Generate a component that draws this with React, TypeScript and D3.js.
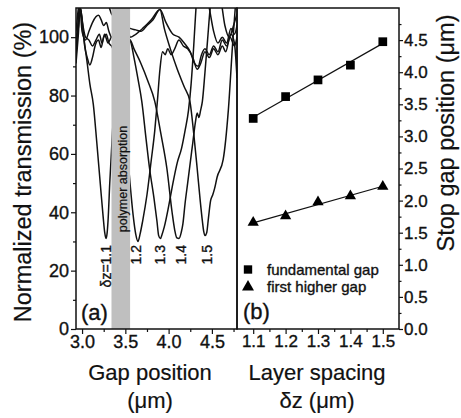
import { useEffect, useRef } from "react";
import * as d3 from "d3";

// panel (a): transmission spectra, [gap position in µm, transmission %]
const spectrum11 = [
  [2.93, 93], [2.95, 103], [2.97, 111], [2.99, 108], [3.02, 100], [3.06, 91], [3.09, 84],
  [3.13, 77], [3.17, 64], [3.21, 50], [3.245, 38], [3.262, 33], [3.277, 31], [3.29, 33],
  [3.3, 37], [3.32, 50], [3.36, 72], [3.4, 95], [3.46, 101], [3.52, 102], [3.56, 100],
  [3.62, 101], [3.7, 103], [3.8, 106], [3.9, 109.5], [3.97, 105], [4.05, 101], [4.12, 100],
  [4.18, 98], [4.25, 95], [4.3, 91], [4.34, 90], [4.38, 94], [4.42, 96], [4.47, 94],
  [4.52, 97], [4.57, 95], [4.62, 99], [4.67, 97], [4.72, 101], [4.76, 98], [4.79, 86],
];
const spectrum12 = [
  [2.93, 91], [2.955, 100], [2.98, 110], [3.0, 106], [3.03, 97], [3.06, 93], [3.09, 90.5],
  [3.12, 93], [3.15, 97], [3.19, 99], [3.22, 96.5], [3.25, 100], [3.28, 101], [3.31, 98],
  [3.34, 97], [3.4, 92], [3.47, 78], [3.52, 62], [3.554, 50], [3.59, 39], [3.62, 32.5],
  [3.646, 30], [3.67, 32.5], [3.7, 37], [3.75, 46], [3.8, 58], [3.84, 68], [3.87, 78],
  [3.9, 89], [3.93, 95], [3.96, 94], [3.99, 96], [4.03, 94], [4.07, 96], [4.12, 99],
  [4.17, 97], [4.22, 96], [4.28, 93], [4.33, 89], [4.37, 91], [4.42, 95], [4.47, 93],
  [4.52, 96], [4.57, 94], [4.62, 97], [4.66, 95], [4.71, 100], [4.76, 97], [4.79, 100],
];
const spectrum13 = [
  [2.93, 96], [2.96, 104], [2.98, 110], [3.01, 104], [3.04, 100], [3.08, 99], [3.12, 97],
  [3.16, 99], [3.2, 101], [3.23, 98], [3.26, 101], [3.3, 98], [3.34, 100], [3.45, 101],
  [3.554, 99], [3.6, 93], [3.65, 85], [3.69, 78], [3.74, 65], [3.78, 55], [3.83, 45],
  [3.865, 37], [3.885, 32], [3.905, 31], [3.925, 32.5], [3.95, 35], [4.0, 42], [4.05, 50],
  [4.1, 57], [4.15, 62], [4.19, 68], [4.23, 75], [4.26, 84], [4.29, 97], [4.31, 107],
  [4.33, 115], [4.4, 120], [4.47, 110], [4.52, 102], [4.57, 98], [4.62, 100], [4.67, 98],
  [4.72, 103], [4.76, 101], [4.79, 104],
];
const spectrum14 = [
  [2.93, 99], [2.96, 106], [2.975, 110], [3.0, 102], [3.04, 99], [3.08, 102], [3.12, 105],
  [3.16, 107], [3.19, 107.5], [3.22, 106], [3.25, 104], [3.28, 105], [3.31, 102], [3.34, 100],
  [3.45, 99], [3.554, 99], [3.6, 96], [3.68, 91], [3.76, 85], [3.84, 78], [3.91, 67],
  [3.98, 55], [4.04, 40], [4.07, 34], [4.095, 31.2], [4.12, 31], [4.145, 33], [4.165, 36],
  [4.19, 43], [4.22, 50], [4.25, 57], [4.28, 64], [4.31, 71], [4.33, 74], [4.35, 72.5],
  [4.37, 75], [4.39, 78], [4.42, 88], [4.45, 99], [4.48, 110], [4.51, 117], [4.6, 113],
  [4.65, 104], [4.7, 100], [4.75, 104], [4.79, 108],
];
const spectrum15 = [
  [2.93, 102], [2.95, 108], [2.97, 113], [3.02, 116], [3.1, 114], [3.2, 112], [3.3, 111],
  [3.34, 108], [3.45, 105], [3.554, 103], [3.62, 102.5], [3.68, 102], [3.75, 104], [3.82, 106],
  [3.9, 109.5], [3.95, 103], [4.02, 96], [4.1, 89], [4.18, 83], [4.246, 78], [4.29, 67],
  [4.33, 55], [4.365, 44], [4.39, 37], [4.405, 33.5], [4.42, 32], [4.44, 33], [4.46, 38],
  [4.485, 44], [4.51, 46], [4.53, 48], [4.56, 52], [4.63, 58], [4.69, 75], [4.74, 98],
  [4.77, 110], [4.79, 118],
];
const spectra = [spectrum11, spectrum12, spectrum13, spectrum14, spectrum15];
const dipLabels = ["δz=1.1", "1.2", "1.3", "1.4", "1.5"];
const absorptionBand = [3.34, 3.555];

// panel (b): stop gap position vs layer spacing
const spacings = [1.1, 1.2, 1.3, 1.4, 1.5];
const fundamentalGap = [3.28, 3.62, 3.88, 4.11, 4.475];
const higherGap = [1.66, 1.76, 1.98, 2.07, 2.22];

const leftXTicks = [3.0, 3.5, 4.0, 4.5];
const leftXMinor = [3.25, 3.75, 4.25, 4.75];
const leftYTicks = [0, 20, 40, 60, 80, 100];
const leftYMinor = [10, 30, 50, 70, 90];
const rightXTicks = [1.1, 1.2, 1.3, 1.4, 1.5];
const rightXMinor = [1.15, 1.25, 1.35, 1.45];
const rightYTicks = [0, 0.5, 1, 1.5, 2, 2.5, 3, 3.5, 4, 4.5];
const rightYMinor = [0.25, 0.75, 1.25, 1.75, 2.25, 2.75, 3.25, 3.75, 4.25, 4.75];

const FONT = "'Liberation Sans', Arial, Helvetica, sans-serif";
const INK = "#111";

const fit = (xs, ys) => {
  const mx = d3.mean(xs);
  const my = d3.mean(ys);
  const s =
    d3.sum(xs, (x, i) => (x - mx) * (ys[i] - my)) / d3.sum(xs, (x) => (x - mx) ** 2);
  return (x) => my + s * (x - mx);
};

// a scanned print: text a touch heavier than the regular face
const ink = (sel, size) =>
  sel
    .attr("font-family", FONT)
    .attr("font-size", size)
    .attr("fill", INK)
    .attr("stroke", INK)
    .attr("stroke-width", 0.35);

const App = () => {
  const svgRef = useRef(null);

  useEffect(() => {
    document.body.style.margin = "0";
    const svg = d3.select(svgRef.current);
    svg.selectAll("*").remove();

    const top = 8;
    const bottom = 329;
    const aLeft = 76;
    const aRight = 237;
    const bRight = 399;

    const xA = d3.scaleLinear().domain([2.93, 4.79]).range([aLeft, aRight]);
    const yA = d3.scaleLinear().domain([0, 110]).range([bottom, top]);
    const xB = d3.scaleLinear().domain([1.05, 1.55]).range([aRight, bRight]);
    const yB = d3.scaleLinear().domain([0, 5]).range([bottom, top]);

    svg.append("rect").attr("width", 461).attr("height", 418).attr("fill", "#fff");

    svg
      .append("defs")
      .append("clipPath")
      .attr("id", "clipA")
      .append("rect")
      .attr("x", aLeft)
      .attr("y", top)
      .attr("width", aRight - aLeft)
      .attr("height", bottom - top);

    // spectra
    const line = d3
      .line()
      .x((d) => xA(d[0]))
      .y((d) => yA(d[1]))
      .curve(d3.curveMonotoneX);

    const gA = svg.append("g").attr("clip-path", "url(#clipA)");
    gA.selectAll(".spectrum")
      .data(spectra)
      .enter()
      .append("path")
      .attr("class", "spectrum")
      .attr("d", line)
      .attr("fill", "none")
      .attr("stroke", INK)
      .attr("stroke-width", 1.5)
      .attr("stroke-linejoin", "round");

    // absorption band
    gA.append("rect")
      .attr("x", xA(absorptionBand[0]))
      .attr("y", top)
      .attr("width", xA(absorptionBand[1]) - xA(absorptionBand[0]))
      .attr("height", bottom - top)
      .attr("fill", "#bfbfbf");

    gA.append("text")
      .attr(
        "transform",
        `translate(${xA((absorptionBand[0] + absorptionBand[1]) / 2) + 6},179) rotate(-90)`
      )
      .attr("text-anchor", "middle")
      .call(ink, 12.5)
      .attr("stroke-width", 0.2)
      .text("polymer absorption");

    const labelX = [3.334, 3.681, 3.955, 4.201, 4.5];
    gA.selectAll(".dip-label")
      .data(dipLabels)
      .enter()
      .append("text")
      .attr("class", "dip-label")
      .attr("transform", (d, i) => `translate(${xA(labelX[i])},${yA(28.8)}) rotate(-90)`)
      .attr("text-anchor", "end")
      .call(ink, 14)
      .text((d) => d);

    // panel (b) fits and markers
    const gB = svg.append("g");
    [fundamentalGap, higherGap].forEach((ys) => {
      const f = fit(spacings, ys);
      gB.append("line")
        .attr("x1", xB(spacings[0]))
        .attr("x2", xB(spacings[spacings.length - 1]))
        .attr("y1", yB(f(spacings[0])))
        .attr("y2", yB(f(spacings[spacings.length - 1])))
        .attr("stroke", INK)
        .attr("stroke-width", 1.2);
    });

    const square = d3.symbol(d3.symbolSquare, 76);
    const triangle = d3.symbol(d3.symbolTriangle, 55);

    gB.selectAll(".sq")
      .data(spacings)
      .enter()
      .append("path")
      .attr("class", "sq")
      .attr("d", square)
      .attr("transform", (d, i) => `translate(${xB(d)},${yB(fundamentalGap[i])})`)
      .attr("fill", "#000");

    gB.selectAll(".tri")
      .data(spacings)
      .enter()
      .append("path")
      .attr("class", "tri")
      .attr("d", triangle)
      .attr("transform", (d, i) => `translate(${xB(d)},${yB(higherGap[i])})`)
      .attr("fill", "#000");

    // legend
    const legend = [
      { label: "fundamental gap", sym: d3.symbol(d3.symbolSquare, 70) },
      { label: "first higher gap", sym: d3.symbol(d3.symbolTriangle, 62) },
    ];
    const lg = gB
      .selectAll(".legend-item")
      .data(legend)
      .enter()
      .append("g")
      .attr("class", "legend-item")
      .attr("transform", (d, i) => `translate(248, ${269.5 + i * 17.5})`);
    lg.append("path").attr("d", (d) => d.sym()).attr("fill", "#000");
    lg.append("text")
      .attr("x", 19)
      .attr("y", 5)
      .call(ink, 15)
      .text((d) => d.label);

    // panel letters
    svg.append("text").attr("x", 81).attr("y", 320).text("(a)").call(ink, 22);
    svg.append("text").attr("x", 243).attr("y", 319).text("(b)").call(ink, 22);

    // frames
    [[aLeft, aRight], [aRight, bRight]].forEach(([l, r]) => {
      svg.append("rect")
        .attr("x", l)
        .attr("y", top)
        .attr("width", r - l)
        .attr("height", bottom - top)
        .attr("fill", "none")
        .attr("stroke", INK)
        .attr("stroke-width", 1.5);
    });

    // axes
    const addAxis = (axis, transform, size) => {
      const g = svg.append("g").attr("transform", transform).call(axis);
      g.attr("font-family", FONT).attr("font-size", size);
      g.select(".domain").remove();
      g.selectAll(".tick line").attr("stroke", INK).attr("stroke-width", 1.2);
      g.selectAll("text").attr("fill", INK).attr("stroke", INK).attr("stroke-width", 0.35);
    };

    addAxis(d3.axisLeft(yA).tickValues(leftYTicks).tickSize(5).tickPadding(2)
      .tickFormat(d3.format("d")), `translate(${aLeft},0)`, 18);
    addAxis(d3.axisLeft(yA).tickValues(leftYMinor).tickSize(3).tickFormat(() => ""),
      `translate(${aLeft},0)`, 18);
    addAxis(d3.axisBottom(xA).tickValues(leftXTicks).tickSize(5).tickPadding(1)
      .tickFormat(d3.format(".1f")), `translate(0,${bottom})`, 18);
    addAxis(d3.axisBottom(xA).tickValues(leftXMinor).tickSize(3).tickFormat(() => ""),
      `translate(0,${bottom})`, 18);
    addAxis(d3.axisBottom(xB).tickValues(rightXTicks).tickSize(5).tickPadding(1)
      .tickFormat(d3.format(".1f")), `translate(0,${bottom})`, 17);
    addAxis(d3.axisBottom(xB).tickValues(rightXMinor).tickSize(3).tickFormat(() => ""),
      `translate(0,${bottom})`, 17);
    addAxis(d3.axisRight(yB).tickValues(rightYTicks).tickSize(4).tickPadding(1)
      .tickFormat(d3.format(".1f")), `translate(${bRight},0)`, 17);
    addAxis(d3.axisRight(yB).tickValues(rightYMinor).tickSize(2.5).tickFormat(() => ""),
      `translate(${bRight},0)`, 17);

    // axis titles
    const title = (x, y, text, rotate, size) =>
      svg.append("text")
        .attr("transform", `translate(${x},${y})${rotate ? " rotate(-90)" : ""}`)
        .attr("text-anchor", "middle")
        .call(ink, size)
        .attr("stroke-width", 0.2)
        .text(text);

    title(31, 172, "Normalized transmission (%)", true, 23.5);
    title(454, 133, "Stop gap position (μm)", true, 23.5);
    title(150, 380, "Gap position", false, 22);
    title(150, 408, "(μm)", false, 22);
    title(317, 380, "Layer spacing", false, 22);
    title(317, 408, "δz (μm)", false, 22);
  }, []);

  return <svg ref={svgRef} width={461} height={418} style={{ display: "block" }}></svg>;
};

export default App;
